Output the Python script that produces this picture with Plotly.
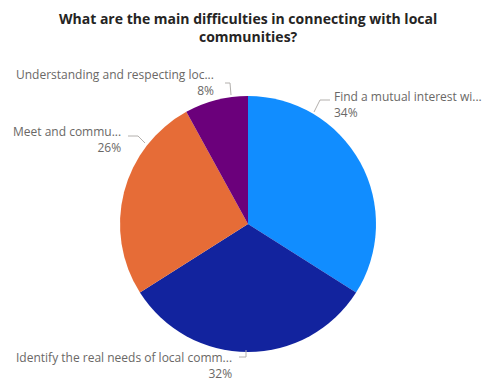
import plotly.graph_objects as go

W, H = 488, 381

categories = [
    "Find a mutual interest with local communities",
    "Identify the real needs of local communities",
    "Meet and communicate with local communities",
    "Understanding and respecting local culture",
]
short_labels = [
    "Find a mutual interest wi...",
    "Identify the real needs of local comm...",
    "Meet and commu...",
    "Understanding and respecting loc...",
]
values = [34, 32, 26, 8]
colors = ["#118DFF", "#12239E", "#E66C37", "#6B007B"]

def px(x):
    return x / W

def py(y):
    return 1 - y / H

fig = go.Figure(go.Pie(
    labels=categories,
    values=values,
    sort=False,
    direction="clockwise",
    rotation=0,
    marker=dict(colors=colors, line=dict(width=0)),
    textinfo="none",
    hoverinfo="label+percent",
    domain=dict(x=[px(120), px(376)], y=[py(352), py(96)]),
    showlegend=False,
))

label_font = dict(family="Open Sans, sans-serif", size=12, color="#6A6866")
pcts = [f"{v / sum(values) * 100:.0f}%" for v in values]

# (x, y center of two-line block, anchor/alignment)
placements = [
    (332, 104, "left"),
    (234, 365, "right"),
    (123, 139.5, "right"),
    (216, 82.5, "right"),
]
annotations = []
for lab, pct, (lx, ly, la) in zip(short_labels, pcts, placements):
    annotations.append(dict(text=f"{lab}<br>{pct}", x=px(lx), y=py(ly),
                            xref="paper", yref="paper", xanchor=la, yanchor="middle",
                            align=la, showarrow=False, font=label_font))

annotations.append(dict(
    text="<b>What are the main difficulties in connecting with local<br>communities?</b>",
    x=px(248), y=py(7), xref="paper", yref="paper", xanchor="center", yanchor="top",
    showarrow=False, align="center",
    font=dict(family="Open Sans, sans-serif", size=14, color="#252423"),
))

leaders = [
    [(314, 112), (320, 100), (330, 100)],
    [(239, 357), (246, 357), (246, 350)],
    [(128, 136), (138, 136), (145, 143)],
    [(225, 83), (230, 83), (231, 95)],
]
shapes = []
for pts in leaders:
    path = "M " + " L ".join(f"{px(x)},{py(y)}" for x, y in pts)
    shapes.append(dict(type="path", path=path, xref="paper", yref="paper",
                       line=dict(color="#B3B0AD", width=1)))

fig.update_layout(
    width=W, height=H,
    margin=dict(l=0, r=0, t=0, b=0),
    paper_bgcolor="white",
    plot_bgcolor="white",
    annotations=annotations,
    shapes=shapes,
)

fig.write_html("out.html")
